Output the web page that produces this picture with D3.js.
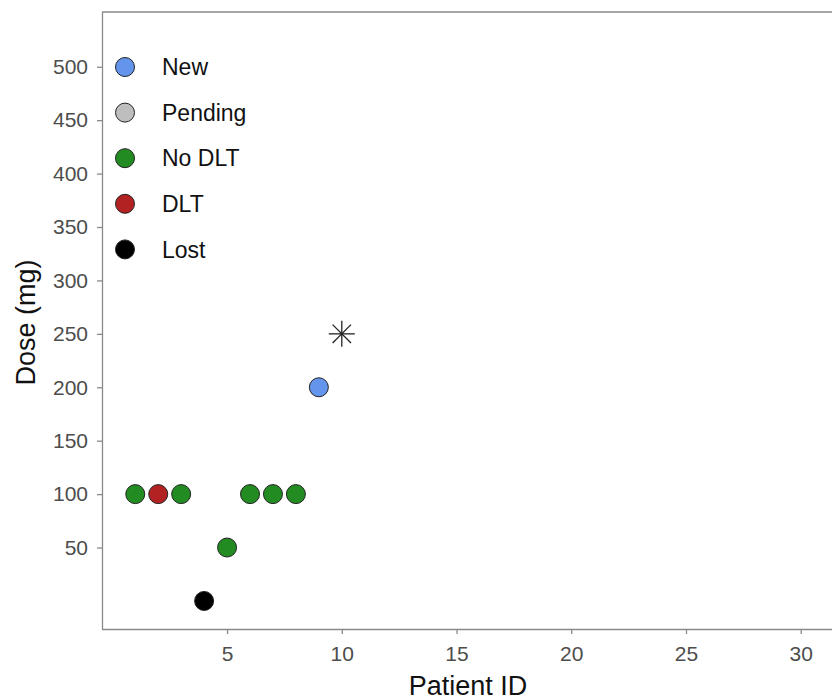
<!DOCTYPE html>
<html><head><meta charset="utf-8">
<script src="https://cdn.jsdelivr.net/npm/d3@7"></script>
<style>body{margin:0;background:#fff}svg{display:block}text{font-family:"Liberation Sans",Arial,sans-serif}</style>
</head><body><svg id="c" width="832" height="700"></svg>
<script>
const patientIds = [1,2,3,4,5,6,7,8,9];
const doses      = [100,100,100,0,50,100,100,100,200];
const statuses   = ["No DLT","DLT","No DLT","Lost","No DLT","No DLT","No DLT","No DLT","New"];
const nextPatient = [10];
const nextDose    = [250];
const legendLabels = ["New","Pending","No DLT","DLT","Lost"];
const legendColors = ["#6495ED","#BEBEBE","#228B22","#B22222","#000000"];
const xTicks = [5,10,15,20,25,30];
const yTicks = [50,100,150,200,250,300,350,400,450,500];

const svg = d3.select("#c");
const L = 102, T = 12, B = 629, R = 834;
const x = d3.scaleLinear().domain([-0.45, 31.45]).range([L, R]);
const y = d3.scaleLinear().domain([-26.25, 551.25]).range([B, T]);
const color = d3.scaleOrdinal().domain(legendLabels).range(legendColors);
const axisCol = "#8a8a8a", textCol = "#4d4d4d";

// top border
svg.append("line").attr("x1",L).attr("x2",832).attr("y1",T).attr("y2",T).attr("stroke",axisCol).attr("stroke-width",1.3);

const gx = svg.append("g").attr("transform",`translate(0,${B})`)
  .call(d3.axisBottom(x).tickValues(xTicks).tickSize(5).tickPadding(12).tickSizeOuter(0));
const gy = svg.append("g").attr("transform",`translate(${L},0)`)
  .call(d3.axisLeft(y).tickValues(yTicks).tickSize(5).tickPadding(9).tickSizeOuter(0));
[gx,gy].forEach(g=>{
  g.select(".domain").attr("stroke",axisCol).attr("stroke-width",1.3);
  g.selectAll(".tick line").attr("stroke",axisCol).attr("stroke-width",1.3);
  g.selectAll(".tick text").attr("fill",textCol).style("font-size","21px").style("font-family","'Liberation Sans',Arial,sans-serif");
});
gx.select(".domain").attr("d",`M${L},0.5H832`);
gy.select(".domain").attr("d",`M0.5,${B}V${T}`);

// titles
svg.append("text").attr("x",468).attr("y",695).attr("text-anchor","middle")
  .style("font-size","27px").attr("fill","#111").text("Patient ID");
svg.append("text").attr("transform",`translate(35,${(T+B)/2+2}) rotate(-90)`).attr("text-anchor","middle")
  .style("font-size","27px").attr("fill","#111").text("Dose (mg)");

// points
svg.append("g").selectAll("circle").data(patientIds).join("circle")
  .attr("cx",(d)=>x(d)).attr("cy",(d,i)=>y(doses[i])).attr("r",9.5)
  .attr("fill",(d,i)=>color(statuses[i])).attr("stroke","#222").attr("stroke-width",1);

// asterisk for next dose
nextPatient.forEach((p,i)=>{
  const cx = x(p), cy = y(nextDose[i]), r = 13;
  const g = svg.append("g").attr("stroke","#222").attr("stroke-width",1.3);
  [0,45,90,135].forEach(a=>{
    const rad = a*Math.PI/180;
    g.append("line").attr("x1",cx-r*Math.cos(rad)).attr("y1",cy-r*Math.sin(rad))
      .attr("x2",cx+r*Math.cos(rad)).attr("y2",cy+r*Math.sin(rad));
  });
});

// legend
const lg = svg.append("g");
legendLabels.forEach((lab,i)=>{
  const cy = 67 + i*45.6;
  lg.append("circle").attr("cx",125).attr("cy",cy).attr("r",9.5)
    .attr("fill",legendColors[i]).attr("stroke","#222").attr("stroke-width",1);
  lg.append("text").attr("x",162).attr("y",cy).attr("dy","0.36em")
    .style("font-size","23px").attr("fill","#111").text(lab);
});
</script></body></html>
